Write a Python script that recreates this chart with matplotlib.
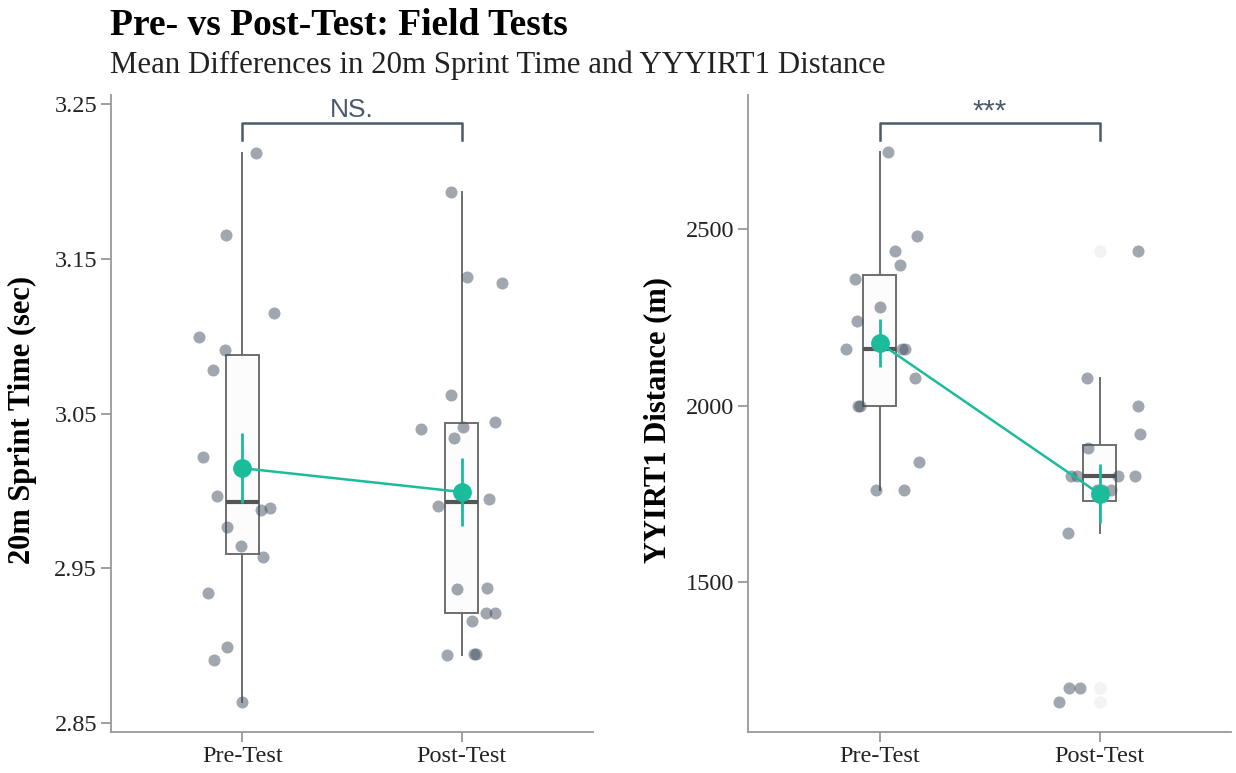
import numpy as np
import matplotlib.pyplot as plt

# data
groups = ["Pre-Test", "Post-Test"]

sprint_pre = [3.2188, 3.1655, 3.1152, 3.0992, 3.0913, 3.0781, 3.0220, 3.0152, 2.9966,
              2.9876, 2.9887, 2.9764, 2.9646, 2.9570, 2.9340, 2.8992, 2.8908, 2.8636]
sprint_pre_jit = [0.064, -0.073, 0.143, -0.198, -0.078, -0.136, -0.180, 0.003, -0.117,
                  0.085, 0.125, -0.070, -0.005, 0.093, -0.157, -0.072, -0.128, -0.003]
sprint_post = [3.1934, 3.1381, 3.1343, 3.0618, 3.0399, 3.0414, 3.0446, 3.0343, 2.9947,
               2.9904, 2.9362, 2.9373, 2.9213, 2.9213, 2.9155, 2.8937, 2.8945, 2.8945]
sprint_post_jit = [-0.050, 0.027, 0.183, -0.050, -0.184, 0.006, 0.152, -0.034, 0.126,
                   -0.107, -0.023, 0.116, 0.110, 0.151, 0.047, -0.068, 0.056, 0.065]

yyirt_pre = [2720, 2480, 2440, 2400, 2360, 2280, 2240, 2160, 2160, 2160, 2080, 2000,
             2000, 1840, 1760, 1760]
yyirt_pre_jit = [0.035, 0.170, 0.068, 0.093, -0.115, -0.001, -0.103, -0.155, 0.099,
                 0.116, 0.159, -0.100, -0.091, 0.177, -0.016, 0.112]
yyirt_post = [2440, 2080, 2000, 1920, 1880, 1800, 1800, 1800, 1800, 1760, 1760, 1760,
              1640, 1200, 1200, 1160]
yyirt_post_jit = [0.173, -0.057, 0.173, 0.185, -0.053, -0.129, -0.103, 0.086, 0.162,
                  0.053, -0.010, 0.012, -0.144, -0.139, -0.088, -0.186]

sprint_ticks = [2.85, 2.95, 3.05, 3.15, 3.25]
yyirt_ticks = [1500, 2000, 2500]

TEAL = "#1abc9c"
DOT = "#44505f"
EDGE = "#6e6e6e"
BRACKET = "#4a5a6b"
SERIF = ["Liberation Serif", "DejaVu Serif"]
SANS = ["Liberation Sans", "DejaVu Sans"]

plt.rcParams["font.family"] = SERIF

fig = plt.figure(figsize=(12.36, 7.73), dpi=100)
ax1 = fig.add_axes([0.0898, 0.053, 0.390, 0.824])
ax2 = fig.add_axes([0.6052, 0.053, 0.391, 0.824])


def panel(ax, pre, pre_jit, post, post_jit, ylim, ticks, tick_fmt, ylabel, lab_x,
          sig, sig_size, bar_y, tip_y, txt_y):
    data = [pre, post]
    ax.boxplot(data, positions=[0, 1], widths=0.15, patch_artist=True,
               boxprops=dict(facecolor="#fcfcfc", edgecolor=EDGE, linewidth=1.4),
               whiskerprops=dict(color=EDGE, linewidth=1.4),
               capprops=dict(linewidth=0),
               medianprops=dict(color="#555555", linewidth=3),
               flierprops=dict(marker="o", markerfacecolor="#f3f3f3",
                               markeredgecolor="#f3f3f3", markersize=8),
               zorder=1)
    for i, (vals, jit) in enumerate([(pre, pre_jit), (post, post_jit)]):
        ax.scatter(np.array(jit) + i, vals, s=75, color=DOT, alpha=0.5,
                   linewidths=0, zorder=3)
    means = [np.mean(v) for v in data]
    ses = [np.std(v, ddof=1) / np.sqrt(len(v)) for v in data]
    ax.plot([0, 1], means, color=TEAL, linewidth=1.8, zorder=4)
    ax.errorbar([0, 1], means, yerr=ses, fmt="none", ecolor=TEAL,
                elinewidth=2, capsize=0, zorder=5)
    ax.plot([0, 1], means, "o", color=TEAL, markersize=12.5, zorder=6)

    ax.plot([0, 0, 1, 1], [tip_y, bar_y, bar_y, tip_y], color=BRACKET,
            linewidth=1.8, zorder=2, clip_on=False)
    ax.text(0.5, txt_y, sig, ha="center", va="baseline", fontsize=sig_size,
            color=BRACKET, family=SANS)

    ax.set_xlim(-0.6, 1.6)
    ax.set_ylim(*ylim)
    ax.set_xticks([0, 1])
    ax.set_xticklabels(groups, fontsize=17.5, color="#222222")
    ax.set_yticks(ticks)
    ax.set_yticklabels([tick_fmt.format(t) for t in ticks], fontsize=17.5,
                       color="#222222")
    ax.set_ylabel(ylabel, fontsize=22, fontweight="bold")
    ax.yaxis.set_label_coords(lab_x, 0.49)
    for s in ["top", "right"]:
        ax.spines[s].set_visible(False)
    for s in ["left", "bottom"]:
        ax.spines[s].set_color("#999999")
        ax.spines[s].set_linewidth(1.3)
    ax.tick_params(color="#999999", width=1.3, length=7, pad=3)


panel(ax1, sprint_pre, sprint_pre_jit, sprint_post, sprint_post_jit,
      (2.844, 3.256), sprint_ticks, "{:.2f}", "20m Sprint Time (sec)", -0.154,
      "NS.", 19, 3.2379, 3.227, 3.2418)
panel(ax2, yyirt_pre, yyirt_pre_jit, yyirt_post, yyirt_post_jit,
      (1074.6, 2881), yyirt_ticks, "{:d}", "YYIRT1 Distance (m)", -0.157,
      "***", 21, 2801.5, 2753, 2812)

fig.text(0.089, 0.9547, "Pre- vs Post-Test: Field Tests", fontsize=27,
         fontweight="bold", va="baseline", ha="left")
fig.text(0.089, 0.9056, "Mean Differences in 20m Sprint Time and YYYIRT1 Distance",
         fontsize=22.2, va="baseline", ha="left", color="#222222")

fig.savefig("out.png", dpi=100)
